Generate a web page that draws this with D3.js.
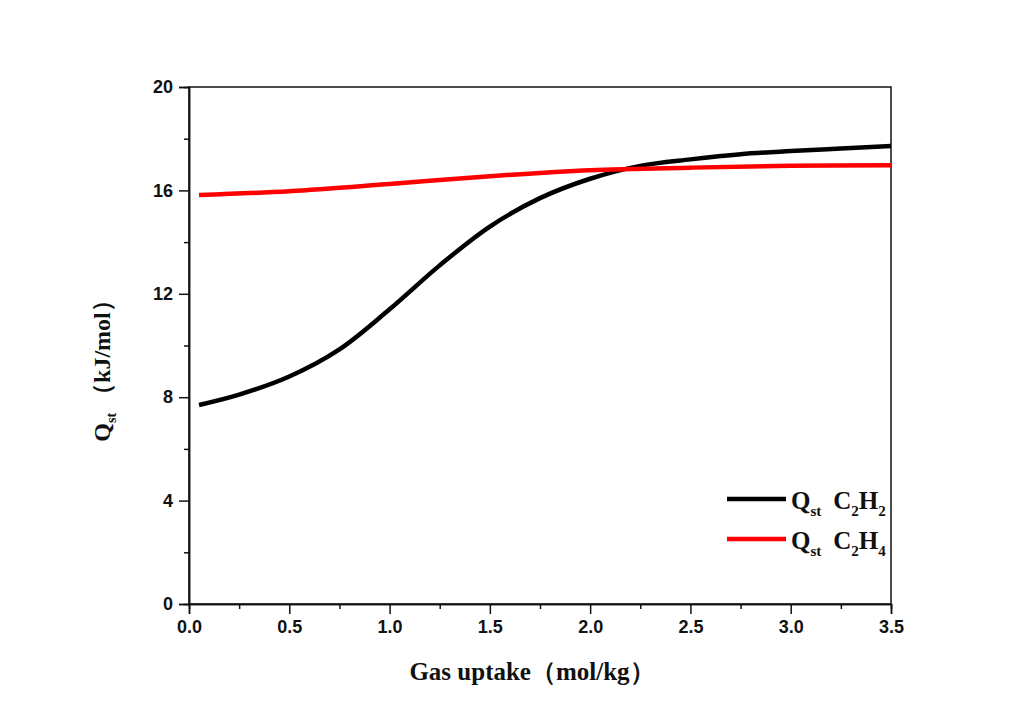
<!DOCTYPE html>
<html lang="en">
<head>
  <meta charset="UTF-8">
  <title>Qst</title>
  <style>
    body { margin: 0; background: #fff; }
    .tick text { font-family: "Liberation Sans", Arial, sans-serif; font-weight: bold; font-size: 18px; fill: #111; }
    .title { font-family: "Liberation Serif", "Times New Roman", serif; font-weight: bold; fill: #111; }
  </style>
</head>
<body>

  <svg id="svg" width="1017" height="713"></svg>

  <script src="https://d3js.org/d3.v7.min.js"></script>
  <script>

    // gas uptake (mol/kg)
    const uptakeC2H2 = [0.05, 0.25, 0.5, 0.75, 1.0, 1.25, 1.5, 1.75, 2.0, 2.25, 2.5, 2.75, 3.0, 3.25, 3.5]
    const qstC2H2    = [7.7, 8.1, 8.8, 9.85, 11.4, 13.1, 14.6, 15.7, 16.45, 16.95, 17.2, 17.4, 17.52, 17.62, 17.72]

    const uptakeC2H4 = [0.05, 0.5, 1.0, 1.5, 2.0, 2.5, 3.0, 3.5]
    const qstC2H4    = [15.82, 15.97, 16.25, 16.55, 16.78, 16.88, 16.95, 16.97]

    const xTicks = [0, 0.5, 1.0, 1.5, 2.0, 2.5, 3.0, 3.5]
    const yTicks = [0, 4, 8, 12, 16, 20]

    const svg = d3.select('#svg')

    const plotLeft = 189, plotRight = 891, plotTop = 87, plotBottom = 604

    const xScale = d3.scaleLinear()
      .domain([0, 3.5])
      .range([plotLeft, plotRight])

    const yScale = d3.scaleLinear()
      .domain([0, 20])
      .range([plotBottom, plotTop])

    // frame
    svg.append('rect')
      .attr('x', plotLeft).attr('y', plotTop)
      .attr('width', plotRight - plotLeft).attr('height', plotBottom - plotTop)
      .attr('fill', 'none').attr('stroke', '#111').attr('stroke-width', 1.5)

    // minor ticks
    const xAxisMinor = d3.axisBottom(xScale)
      .tickValues(d3.range(0.25, 3.5, 0.5))
      .tickSize(5).tickFormat('')
    const yAxisMinor = d3.axisLeft(yScale)
      .tickValues(d3.range(2, 20, 4))
      .tickSize(5).tickFormat('')

    svg.append('g').attr('transform', `translate(0,${plotBottom})`).call(xAxisMinor)
    svg.append('g').attr('transform', `translate(${plotLeft},0)`).call(yAxisMinor)

    // major ticks
    const xAxis = d3.axisBottom(xScale)
      .tickValues(xTicks)
      .tickSize(10).tickPadding(6)
      .tickFormat(d3.format('.1f'))
    const yAxis = d3.axisLeft(yScale)
      .tickValues(yTicks)
      .tickSize(10).tickPadding(6)
      .tickFormat(d3.format('d'))

    svg.append('g').attr('transform', `translate(0,${plotBottom})`).call(xAxis)
    svg.append('g').attr('transform', `translate(${plotLeft},0)`).call(yAxis)

    svg.selectAll('.domain').attr('stroke', '#111').attr('stroke-width', 1.5)
    svg.selectAll('.tick line').attr('stroke', '#111').attr('stroke-width', 1.5)

    // curves
    const line = d3.line()
      .x(d => xScale(d[0]))
      .y(d => yScale(d[1]))
      .curve(d3.curveCatmullRom)

    svg.append('path')
      .datum(uptakeC2H2.map((x, i) => [x, qstC2H2[i]]))
      .attr('d', line)
      .attr('fill', 'none').attr('stroke', '#000').attr('stroke-width', 4.5)

    svg.append('path')
      .datum(uptakeC2H4.map((x, i) => [x, qstC2H4[i]]))
      .attr('d', line)
      .attr('fill', 'none').attr('stroke', '#f00').attr('stroke-width', 4.5)

    // axis titles
    svg.append('text')
      .attr('class', 'title')
      .attr('x', 532).attr('y', 680)
      .attr('text-anchor', 'middle')
      .attr('font-size', 25)
      .text('Gas uptake（mol/kg）')

    const yt = svg.append('text')
      .attr('class', 'title')
      .attr('transform', 'translate(110,365) rotate(-90)')
      .attr('text-anchor', 'middle')
      .attr('font-size', 24)
    yt.append('tspan').text('Q')
    yt.append('tspan').attr('font-size', 14).attr('dy', 6).text('st')
    yt.append('tspan').attr('dy', -6).text(' （kJ/mol）')

    // legend
    const legend = [
      { color: '#000', sub: '2', y: 499 },
      { color: '#f00', sub: '4', y: 539 }
    ]
    legend.forEach(d => {
      svg.append('line')
        .attr('x1', 727).attr('x2', 786)
        .attr('y1', d.y).attr('y2', d.y)
        .attr('stroke', d.color).attr('stroke-width', 4.5)
      const t = svg.append('text')
        .attr('class', 'title')
        .attr('x', 791).attr('y', d.y + 10)
        .attr('font-size', 25)
      t.append('tspan').text('Q')
      t.append('tspan').attr('font-size', 15).attr('dy', 7).text('st')
      t.append('tspan').attr('dy', -7).attr('dx', 12).text('C')
      t.append('tspan').attr('font-size', 15).attr('dy', 7).text('2')
      t.append('tspan').attr('dy', -7).text('H')
      t.append('tspan').attr('font-size', 15).attr('dy', 7).text(d.sub)
    })

  </script>
</body>
</html>
